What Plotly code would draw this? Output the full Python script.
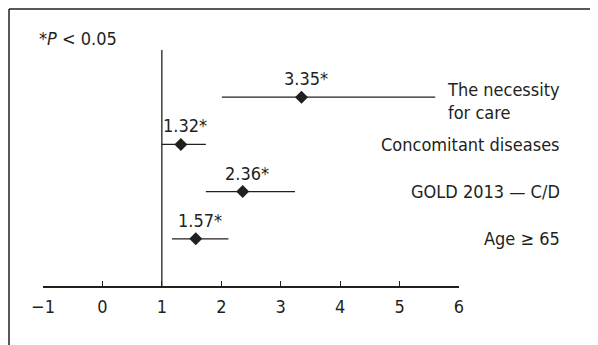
import plotly.graph_objects as go

# Data
factors = ["Age \u2265 65", "GOLD 2013 \u2014 C/D", "Concomitant diseases", "The necessity<br>for care"]
rows = [1, 2, 3, 4]
odds = [1.57, 2.36, 1.32, 3.35]
ci_low = [1.17, 1.74, 1.00, 2.01]
ci_high = [2.12, 3.24, 1.74, 5.60]
value_labels = ["1.57*", "2.36*", "1.32*", "3.35*"]
x_ticks = [-1, 0, 1, 2, 3, 4, 5, 6]

FONT = "Liberation Sans Narrow, DejaVu Sans Condensed, Arial Narrow, sans-serif"
INK = "#231f20"

fig = go.Figure()
fig.add_trace(go.Scatter(
    x=odds, y=rows, mode="markers",
    marker=dict(symbol="diamond", size=10, color=INK),
    error_x=dict(type="data", symmetric=False,
                 array=[h - o for h, o in zip(ci_high, odds)],
                 arrayminus=[o - l for o, l in zip(odds, ci_low)],
                 width=0, thickness=1.3, color=INK),
    showlegend=False, hoverinfo="skip", cliponaxis=False,
))

# reference line at x = 1
fig.add_shape(type="line", xref="x", yref="y", x0=1, x1=1, y0=0, y1=5,
              line=dict(color=INK, width=1.3))

# frame (left + top)
fig.add_shape(type="line", xref="paper", yref="paper", x0=-0.0817, x1=1.5, y0=1.1737, y1=1.1737,
              line=dict(color=INK, width=1.5))
fig.add_shape(type="line", xref="paper", yref="paper", x0=-0.0817, x1=-0.0817, y0=1.1737, y1=-0.4,
              line=dict(color=INK, width=1.5))

annotations = []
for o, r, t in zip(odds, rows, value_labels):
    annotations.append(dict(x=o, y=r, xref="x", yref="y", text=t, showarrow=False,
                            xanchor="center", yanchor="bottom", yshift=6, xshift=4,
                            font=dict(family=FONT, size=18, color=INK)))
for r, f in zip(rows, factors):
    annotations.append(dict(x=1.2476, y=r, xref="paper", yref="y", text=f, showarrow=False,
                            xanchor="right", yanchor="middle", align="left",
                            yshift=-4 if "<br>" in f else 0,
                            font=dict(family=FONT, size=18, color=INK)))
annotations.append(dict(x=-0.0144, y=1.0508, xref="paper", yref="paper",
                        text="*<i>P</i> < 0.05", showarrow=False,
                        xanchor="left", yanchor="middle",
                        font=dict(family=FONT, size=18, color=INK)))

fig.update_layout(
    width=590, height=337,
    margin=dict(l=35, r=139, t=42, b=59),
    paper_bgcolor="white", plot_bgcolor="white",
    annotations=annotations,
    xaxis=dict(range=[-1, 6], tickvals=x_ticks, ticks="inside", ticklen=5, tickwidth=1.3,
               tickcolor=INK, showline=True, linecolor=INK, linewidth=1.5,
               showgrid=False, zeroline=False, ticklabelstandoff=4,
               tickfont=dict(family=FONT, size=18, color=INK)),
    yaxis=dict(range=[0, 5], visible=False, showgrid=False, zeroline=False),
)

fig.write_html("out.html")
